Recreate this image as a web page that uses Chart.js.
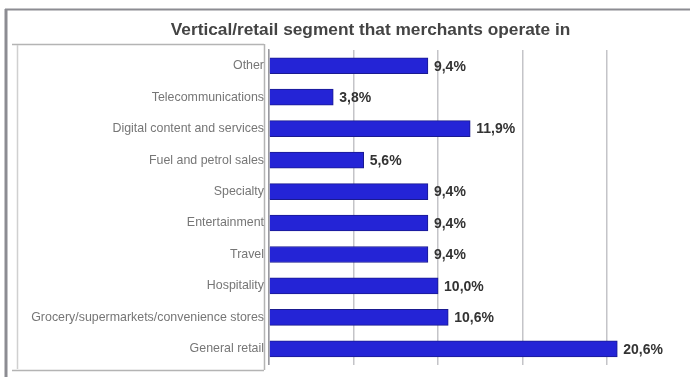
<!DOCTYPE html>
<html>
<head>
<meta charset="utf-8">
<script src="https://cdn.jsdelivr.net/npm/chart.js@4/dist/chart.umd.min.js"></script>
<style>
  html, body { margin: 0; padding: 0; background: #fff; }
  #wrap { width: 690px; height: 377px; position: relative; }
</style>
</head>
<body>
<div id="wrap"><canvas id="segChart"></canvas></div>
<script>
const chartTitle = "Vertical/retail segment that merchants operate in";
const segments = [
  "Other",
  "Telecommunications",
  "Digital content and services",
  "Fuel and petrol sales",
  "Specialty",
  "Entertainment",
  "Travel",
  "Hospitality",
  "Grocery/supermarkets/convenience stores",
  "General retail"
];
const shares = [9.4, 3.8, 11.9, 5.6, 9.4, 9.4, 9.4, 10.0, 10.6, 20.6];

// frame around the whole chart and the label panel, plus the title
const framePlugin = {
  id: "frame",
  beforeDraw(chart) {
    const c = chart.ctx;
    c.save();
    c.strokeStyle = "#8c8c92";
    c.lineWidth = 2;
    c.beginPath();
    c.moveTo(5, 9.5);
    c.lineTo(690, 9.5);
    c.stroke();
    c.lineWidth = 3;
    c.beginPath();
    c.moveTo(6, 9);
    c.lineTo(6, 377);
    c.stroke();

    c.strokeStyle = "#b4b4b4";
    c.lineWidth = 1.5;
    c.beginPath();
    c.moveTo(12, 44.5);
    c.lineTo(264, 44.5);
    c.moveTo(264.5, 44);
    c.lineTo(264.5, 370);
    c.moveTo(12, 370.5);
    c.lineTo(264, 370.5);
    c.stroke();
    c.strokeStyle = "#d0d0d0";
    c.beginPath();
    c.moveTo(17.5, 45);
    c.lineTo(17.5, 369);
    c.stroke();

    c.fillStyle = "#444";
    c.font = "bold 17.3px 'Liberation Sans', Arial, sans-serif";
    c.textAlign = "center";
    c.textBaseline = "alphabetic";
    c.fillText(chartTitle, 370.5, 35);
    c.restore();
  }
};

// percentage labels at the end of each bar
const valuePlugin = {
  id: "values",
  afterDatasetsDraw(chart) {
    const c = chart.ctx;
    const meta = chart.getDatasetMeta(0);
    c.save();
    c.fillStyle = "#333";
    c.font = "bold 14px 'Liberation Sans', Arial, sans-serif";
    c.textAlign = "left";
    c.textBaseline = "middle";
    meta.data.forEach((bar, i) => {
      const txt = shares[i].toFixed(1).replace(".", ",") + "%";
      c.fillText(txt, bar.x + 6, bar.y + 1);
    });
    c.restore();
  }
};

new Chart(document.getElementById("segChart"), {
  type: "bar",
  data: {
    labels: segments,
    datasets: [{
      data: shares,
      backgroundColor: "#2424d6",
      borderColor: "#1a1a90",
      borderWidth: 1,
      barThickness: 16
    }]
  },
  options: {
    indexAxis: "y",
    responsive: true,
    maintainAspectRatio: false,
    animation: false,
    layout: { padding: { top: 50, bottom: 10, left: 0, right: 0 } },
    plugins: {
      legend: { display: false },
      title: { display: false },
      tooltip: { enabled: false }
    },
    scales: {
      x: {
        min: 0,
        max: 24.9,
        ticks: { display: false, stepSize: 5 },
        grid: {
          color: (ctx) => (ctx.tick && ctx.tick.value % 5 === 0 ? "#c4c4c8" : "rgba(0,0,0,0)"),
          lineWidth: 1.5,
          drawTicks: false
        },
        border: { display: false }
      },
      y: {
        afterFit(scale) { scale.width = 269; },
        ticks: {
          color: "#767676",
          padding: 5,
          font: { family: "'Liberation Sans', Arial, sans-serif", size: 12.4 }
        },
        grid: { display: false, drawTicks: false },
        border: { display: true, color: "#9a9aa0", width: 1.5 }
      }
    }
  },
  plugins: [framePlugin, valuePlugin]
});
</script>
</body>
</html>
